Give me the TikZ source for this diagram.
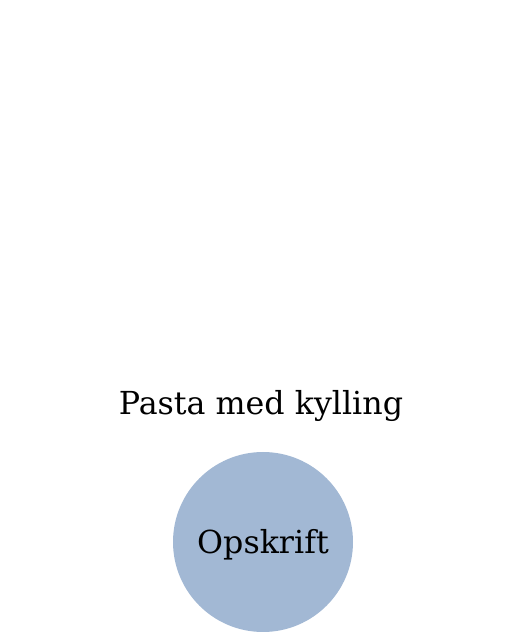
\documentclass[tikz,border=0pt]{standalone}
\usepackage{fontspec}
\setmainfont{DejaVu Serif}
\usepackage{tikz}
\definecolor{opskriftblaa}{RGB}{162,184,212}
\tikzset{
	titel/.style={anchor=base, inner sep=0pt, font=\fontsize{31.7}{36}\selectfont},
	kategori/.style={circle, fill=opskriftblaa, minimum size=180pt, inner sep=0pt}
}

\begin{document}
\begin{tikzpicture}[x=1pt, y=1pt]
	% ramme
	\useasboundingbox (0, 0) rectangle (526, 632);
	% titel
	\node[titel] (titel) at (261, 217) {Pasta med kylling};
	% cirkel
	\node[kategori] (opskrift) at (263, 90) {};
	\node[titel] (opskrifttekst) at ([yshift=-12pt]opskrift.center) {Opskrift};
\end{tikzpicture}
\end{document}
